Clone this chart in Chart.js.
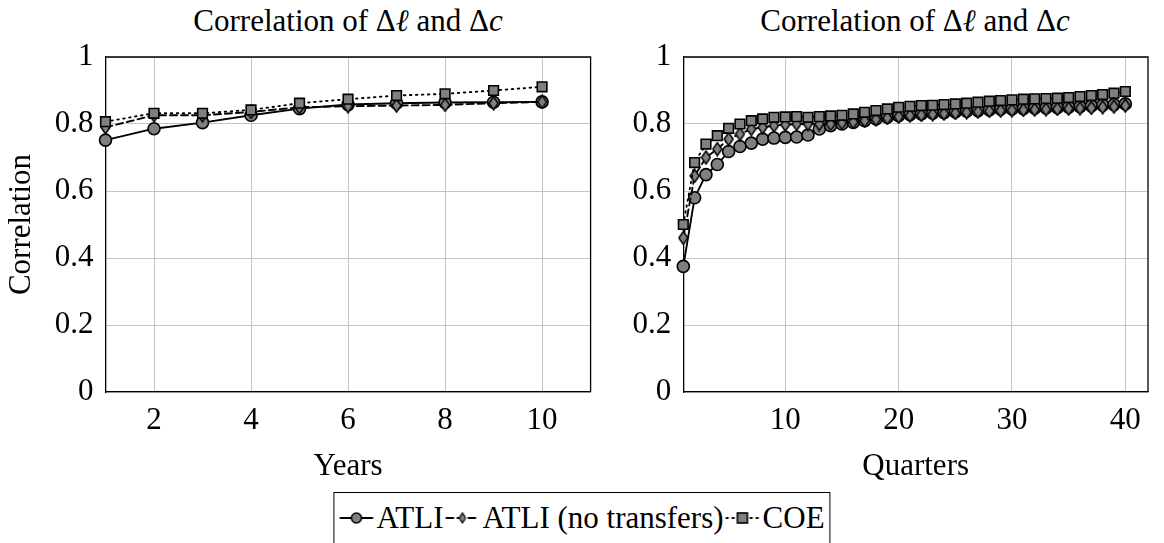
<!DOCTYPE html>
<html>
<head>
<meta charset="utf-8">
<script src="https://cdn.jsdelivr.net/npm/chart.js@4/dist/chart.umd.min.js"></script>
<style>
  body { margin: 0; background: #fff; }
  #page { position: relative; width: 1164px; height: 543px; overflow: hidden;
          font-family: "Liberation Serif", "DejaVu Serif", serif; color: #000; }
  .panel { position: absolute; top: 0; }
  .ptitle { position: absolute; top: 3px; font-size: 31px; white-space: nowrap;
            transform: translateX(-50%); }
  #legend { position: absolute; left: 50%; transform: translateX(-50%); top: 492px; height: 60px;
            box-sizing: border-box; border: 1.3px solid #000; display: flex; align-items: center;
            padding: 0 4px 8px 4px; font-size: 31px; white-space: nowrap; }
  #legend .item { display: flex; align-items: center; margin-right: 1px; }
  #legend canvas { margin: 0 2px 0 0; }
</style>
</head>
<body>
<div id="page">
  <div class="ptitle" style="left:348px">Correlation of &Delta;<i>&#8467;</i> and &Delta;<i>c</i></div>
  <div class="ptitle" style="left:915px">Correlation of &Delta;<i>&#8467;</i> and &Delta;<i>c</i></div>
  <div class="panel" style="left:0px"><canvas id="yearsChart" width="600" height="487"></canvas></div>
  <div class="panel" style="left:600px"><canvas id="quartersChart" width="564" height="487"></canvas></div>
  <div id="legend"></div>
</div>

<script>
// horizon (years / quarters) and correlations per measure
const years = [1, 2, 3, 4, 5, 6, 7, 8, 9, 10];
const atliYears = [0.752, 0.786, 0.804, 0.826, 0.846, 0.858, 0.862, 0.864, 0.865, 0.866];
const noTransfersYears = [0.79, 0.826, 0.826, 0.836, 0.85, 0.853, 0.855, 0.857, 0.862, 0.866];
const coeYears = [0.807, 0.832, 0.832, 0.842, 0.862, 0.874, 0.885, 0.89, 0.9, 0.911];

const quarters = Array.from({ length: 40 }, (_, i) => i + 1);
const atliQuarters = [0.375, 0.58, 0.649, 0.679, 0.718, 0.733, 0.743, 0.755, 0.758, 0.76,
  0.761, 0.767, 0.785, 0.795, 0.8, 0.805, 0.81, 0.815, 0.82, 0.825,
  0.828, 0.83, 0.832, 0.834, 0.836, 0.838, 0.84, 0.842, 0.844, 0.845,
  0.846, 0.847, 0.848, 0.849, 0.85, 0.852, 0.854, 0.856, 0.858, 0.86];
const noTransfersQuarters = [0.46, 0.645, 0.7, 0.725, 0.755, 0.77, 0.785, 0.79, 0.795, 0.798,
  0.8, 0.8, 0.8, 0.8, 0.803, 0.806, 0.81, 0.814, 0.818, 0.822,
  0.825, 0.827, 0.829, 0.831, 0.833, 0.835, 0.837, 0.839, 0.84, 0.841,
  0.842, 0.843, 0.844, 0.845, 0.846, 0.847, 0.848, 0.85, 0.852, 0.855];
const coeQuarters = [0.5, 0.685, 0.74, 0.765, 0.787, 0.8, 0.81, 0.815, 0.82, 0.821,
  0.822, 0.82, 0.822, 0.824, 0.826, 0.83, 0.835, 0.84, 0.845, 0.85,
  0.853, 0.855, 0.856, 0.858, 0.86, 0.862, 0.865, 0.868, 0.87, 0.872,
  0.874, 0.875, 0.876, 0.877, 0.879, 0.882, 0.885, 0.888, 0.892, 0.897];

const yTicks = [0, 0.2, 0.4, 0.6, 0.8, 1];
const yearTicks = [2, 4, 6, 8, 10];
const quarterTicks = [10, 20, 30, 40];

const FONT = { family: '"Liberation Serif", "DejaVu Serif", serif', size: 31 };
const MARK_FILL = "#808080";

// narrow diamond marker, like pgfplots diamond*
function makeDiamond() {
  const c = document.createElement("canvas");
  c.width = 11; c.height = 15;
  const g = c.getContext("2d");
  g.beginPath();
  g.moveTo(5.5, 1); g.lineTo(10, 7.5); g.lineTo(5.5, 14); g.lineTo(1, 7.5); g.closePath();
  g.fillStyle = MARK_FILL; g.fill();
  g.lineWidth = 1.5; g.strokeStyle = "#000"; g.stroke();
  return c;
}
const diamond = makeDiamond();

const series = [
  { label: "ATLI", style: "circle", dash: [], order: 3 },
  { label: "ATLI (no transfers)", style: diamond, dash: [7, 4], order: 2 },
  { label: "COE", style: "rect", dash: [1.5, 4.5], order: 1 },
];

function makeDatasets(xs, cols) {
  return series.map((s, i) => ({
    label: s.label,
    data: xs.map((x, j) => ({ x: x, y: cols[i][j] })),
    borderColor: "#000",
    borderWidth: 1.9,
    borderDash: s.dash,
    borderCapStyle: "round",
    pointStyle: s.style,
    pointRadius: s.style === "rect" ? 6.8 : 6,
    pointBackgroundColor: MARK_FILL,
    pointBorderColor: "#000",
    pointBorderWidth: 1.6,
    order: s.order,
    tension: 0,
    clip: false,
  }));
}

function makeChart(id, xs, cols, xMin, xMax, xTickVals, xTitle, yWidth, padRight, showYTitle) {
  return new Chart(document.getElementById(id), {
    type: "line",
    data: { datasets: makeDatasets(xs, cols) },
    options: {
      responsive: false,
      animation: false,
      layout: { padding: { top: 57, right: padRight, left: 0, bottom: 0 } },
      plugins: { legend: { display: false }, tooltip: { enabled: false } },
      scales: {
        x: {
          type: "linear", min: xMin, max: xMax,
          afterBuildTicks: (s) => { s.ticks = xTickVals.map((v) => ({ value: v })); },
          afterFit: (s) => { s.height = 95; },
          grid: { color: "#c4c4c4", lineWidth: 1, drawTicks: false },
          border: { color: "#000", width: 1.3 },
          ticks: { color: "#000", font: FONT, padding: 10, maxRotation: 0 },
          title: { display: true, text: xTitle, color: "#000", font: FONT, padding: 2 },
        },
        y: {
          min: 0, max: 1,
          afterBuildTicks: (s) => { s.ticks = yTicks.map((v) => ({ value: v })); },
          afterFit: (s) => { s.width = yWidth; },
          grid: { color: "#c4c4c4", lineWidth: 1, drawTicks: false },
          border: { color: "#000", width: 1.3 },
          ticks: { color: "#000", font: FONT, padding: 12, callback: (v) => String(v) },
          title: { display: showYTitle, text: "Correlation", color: "#000", font: FONT, padding: 3 },
        },
      },
    },
    plugins: [{
      // close the frame on the top and right, as the axes only draw left/bottom
      id: "frame",
      afterDraw(chart) {
        const { ctx, chartArea: a } = chart;
        ctx.save();
        ctx.strokeStyle = "#000";
        ctx.lineWidth = 1.3;
        ctx.beginPath();
        ctx.moveTo(a.left, a.top); ctx.lineTo(a.right, a.top); ctx.lineTo(a.right, a.bottom);
        ctx.stroke();
        ctx.restore();
      },
    }],
  });
}

const yearsChart = makeChart("yearsChart", years, [atliYears, noTransfersYears, coeYears],
  1, 11, yearTicks, "Years", 105.5, 9.4, true);
makeChart("quartersChart", quarters, [atliQuarters, noTransfersQuarters, coeQuarters],
  1, 42, quarterTicks, "Quarters", 83.3, 16, false);

// legend shared by both panels, built from the datasets
const legend = document.getElementById("legend");
yearsChart.data.datasets.forEach((ds) => {
  const item = document.createElement("div");
  item.className = "item";
  const sw = document.createElement("canvas");
  sw.width = 36; sw.height = 20;
  const g = sw.getContext("2d");
  g.strokeStyle = "#000"; g.lineWidth = ds.borderWidth; g.lineCap = "round";
  g.setLineDash(ds.borderDash);
  g.beginPath(); g.moveTo(2, 10); g.lineTo(34, 10); g.stroke();
  g.setLineDash([]);
  g.fillStyle = MARK_FILL; g.lineWidth = ds.pointBorderWidth;
  if (ds.pointStyle === "circle") {
    g.beginPath(); g.arc(18, 10, 5, 0, Math.PI * 2); g.fill(); g.stroke();
  } else if (ds.pointStyle === "rect") {
    g.fillRect(13, 5, 10, 10); g.strokeRect(13, 5, 10, 10);
  } else {
    g.drawImage(ds.pointStyle, 14, 4, 8, 12);
  }
  const txt = document.createElement("span");
  txt.textContent = ds.label;
  item.appendChild(sw);
  item.appendChild(txt);
  legend.appendChild(item);
});
</script>
</body>
</html>
